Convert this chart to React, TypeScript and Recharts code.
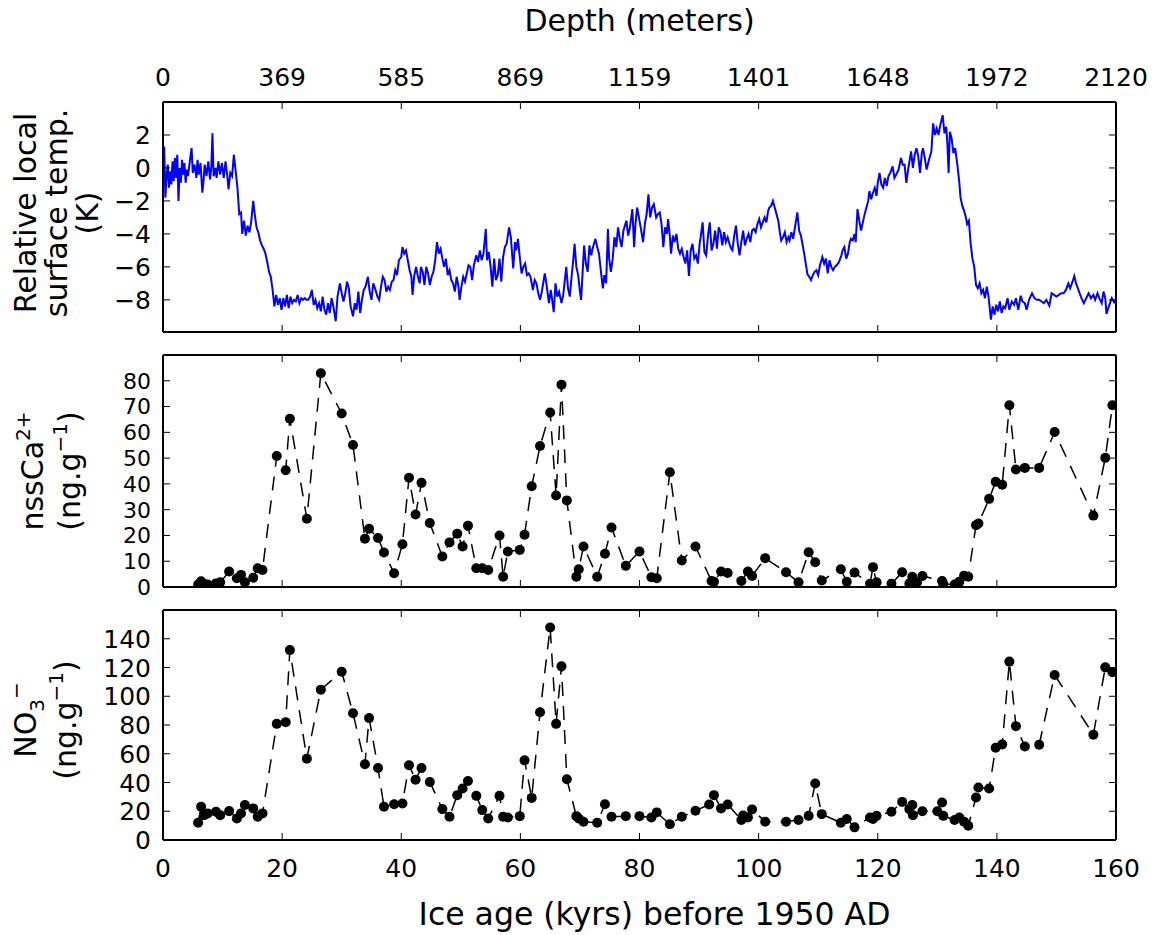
import React from 'react';
import { LineChart, Line, XAxis, YAxis } from 'recharts';

const FONT = '"DejaVu Sans", sans-serif';

const ageTicks = [0, 20, 40, 60, 80, 100, 120, 140, 160];
const depthLabels = ['0', '369', '585', '869', '1159', '1401', '1648', '1972', '2120'];
const tempTicks = [-8, -6, -4, -2, 0, 2];
const caTicks = [0, 10, 20, 30, 40, 50, 60, 70, 80];
const no3Ticks = [0, 20, 40, 60, 80, 100, 120, 140];

// [age kyr, relative temperature K]
const tempSeries: [number, number][] = [
  [0.0, -0.3], [0.2, 1.3], [0.4, -1.8], [0.6, -0.5], [0.8, 0.2], [1.0, -1.2], [1.2, -0.2], [1.4, -1.0],
  [1.6, 0.4], [1.8, -0.8], [2.0, 0.6], [2.2, -0.6], [2.4, 0.8], [2.6, -2.0], [2.8, 0.0], [3.0, -0.9],
  [3.2, 0.5], [3.4, -0.4], [3.6, 0.3], [3.8, -0.9], [4.0, -0.1], [4.2, -0.5], [4.5, 0.4], [4.8, 1.2],
  [5.0, -0.3], [5.3, 0.2], [5.6, -0.6], [5.8, 0.5], [6.0, -0.4], [6.3, 0.3], [6.6, -1.5], [6.8, -0.8],
  [7.0, 0.2], [7.3, -0.5], [7.6, 0.4], [7.9, -0.7], [8.1, 0.0], [8.3, 2.1], [8.5, -0.5], [8.8, 0.0],
  [9.0, -0.6], [9.3, 0.4], [9.6, -0.4], [9.9, 0.3], [10.2, -0.6], [10.5, 0.4], [10.8, -0.5], [11.0, -1.3],
  [11.3, -0.3], [11.6, -0.5], [11.9, 0.8], [12.2, -0.2], [12.5, -1.2], [12.8, -2.8], [13.1, -2.7], [13.3, -4.0],
  [13.6, -3.2], [13.9, -4.1], [14.2, -3.5], [14.5, -3.9], [14.8, -3.3], [15.15, -2.0], [15.4, -2.8], [15.7, -3.6],
  [16.0, -3.9], [16.3, -4.4], [16.6, -4.7], [16.9, -4.9], [17.2, -5.2], [17.5, -5.7], [17.8, -6.3], [18.1, -6.6],
  [18.4, -7.4], [18.7, -8.4], [19.0, -7.7], [19.3, -8.3], [19.6, -7.9], [19.9, -8.6], [20.2, -7.9], [20.5, -8.4],
  [20.8, -7.7], [21.1, -8.5], [21.4, -7.8], [21.7, -8.2], [22.0, -8.0], [22.3, -8.1], [22.6, -7.7], [22.9, -8.2],
  [23.2, -7.9], [23.5, -8.0], [23.8, -7.9], [24.1, -8.0], [24.4, -8.0], [24.7, -7.8], [25.0, -7.4], [25.3, -8.3],
  [25.6, -8.0], [25.9, -8.5], [26.2, -8.2], [26.5, -8.7], [26.8, -7.8], [27.1, -8.6], [27.4, -8.9], [27.7, -8.2],
  [28.0, -8.8], [28.3, -7.9], [28.6, -8.4], [29.0, -9.3], [29.3, -7.8], [29.7, -7.0], [30.0, -7.6], [30.3, -8.1],
  [30.6, -7.6], [30.9, -6.9], [31.2, -7.3], [31.5, -8.4], [31.9, -9.0], [32.2, -8.2], [32.5, -8.6], [32.8, -7.5],
  [33.1, -8.8], [33.4, -8.0], [33.7, -7.4], [34.0, -7.2], [34.4, -6.6], [34.7, -7.5], [35.0, -8.0], [35.3, -7.0],
  [35.6, -7.3], [36.0, -7.8], [36.3, -8.0], [36.6, -7.2], [36.9, -6.6], [37.2, -6.8], [37.5, -7.5], [37.8, -7.2],
  [38.1, -7.4], [38.4, -6.9], [38.7, -6.8], [39.0, -6.2], [39.3, -6.5], [39.6, -5.6], [40.0, -5.4], [40.2, -4.8],
  [40.5, -5.2], [40.8, -5.0], [41.1, -5.6], [41.4, -6.2], [41.7, -6.6], [41.9, -7.7], [42.2, -6.5], [42.5, -6.0],
  [42.8, -6.6], [43.1, -7.0], [43.3, -6.0], [43.6, -6.3], [43.9, -7.1], [44.2, -6.0], [44.5, -6.4], [44.8, -7.1],
  [45.1, -6.6], [45.4, -6.3], [45.7, -5.6], [46.0, -4.5], [46.3, -5.2], [46.6, -4.9], [46.9, -5.5], [47.2, -6.0],
  [47.5, -5.5], [47.8, -6.5], [48.1, -6.2], [48.4, -6.8], [48.7, -7.0], [49.0, -7.5], [49.3, -6.6], [49.6, -7.2],
  [49.8, -8.0], [50.1, -7.2], [50.4, -6.6], [50.7, -6.9], [51.0, -6.4], [51.3, -5.9], [51.6, -6.0], [51.9, -6.8],
  [52.2, -5.9], [52.6, -5.3], [52.9, -5.7], [53.2, -5.0], [53.5, -5.6], [53.8, -5.2], [54.2, -3.7], [54.4, -5.6],
  [54.7, -5.1], [55.0, -6.0], [55.3, -7.2], [55.6, -5.5], [55.9, -6.8], [56.2, -6.5], [56.5, -5.5], [56.8, -6.9],
  [57.1, -5.4], [57.4, -4.8], [57.7, -4.6], [58.1, -3.6], [58.4, -4.2], [58.8, -6.1], [59.1, -4.5], [59.3, -5.0],
  [59.6, -4.3], [59.9, -5.4], [60.2, -6.4], [60.5, -6.0], [60.8, -5.8], [61.1, -6.5], [61.4, -6.4], [61.7, -6.6],
  [62.1, -7.4], [62.4, -6.8], [62.7, -7.0], [63.0, -7.6], [63.3, -8.0], [63.6, -7.5], [64.1, -6.4], [64.4, -7.1],
  [64.8, -8.2], [65.1, -7.4], [65.3, -7.9], [65.6, -8.75], [65.9, -7.0], [66.2, -7.8], [66.5, -7.5], [66.9, -8.2],
  [67.2, -7.7], [67.7, -6.0], [68.0, -7.3], [68.3, -7.8], [68.6, -6.6], [68.9, -5.5], [69.1, -4.6], [69.4, -6.0],
  [69.7, -6.5], [70.0, -7.5], [70.2, -8.0], [70.5, -6.0], [70.7, -4.7], [71.0, -5.8], [71.3, -6.3], [71.6, -4.7],
  [71.9, -5.3], [72.2, -4.8], [72.6, -4.3], [72.9, -4.8], [73.2, -5.2], [73.5, -6.2], [73.85, -7.3], [74.1, -6.5],
  [74.4, -7.0], [74.7, -3.7], [74.9, -5.5], [75.2, -6.3], [75.5, -5.5], [75.8, -4.2], [76.1, -4.8], [76.4, -3.6],
  [76.7, -4.3], [77.0, -4.8], [77.3, -3.8], [77.8, -3.2], [78.1, -4.1], [78.4, -3.6], [78.8, -2.5], [79.1, -4.8],
  [79.3, -3.5], [79.6, -2.4], [79.9, -3.0], [80.2, -3.6], [80.6, -4.5], [80.9, -3.4], [81.2, -2.8], [81.5, -1.6],
  [81.8, -3.0], [82.1, -2.4], [82.4, -2.2], [82.8, -3.0], [83.1, -2.8], [83.4, -2.7], [83.7, -3.4], [84.0, -4.8],
  [84.3, -3.6], [84.6, -4.0], [84.8, -3.1], [85.1, -4.2], [85.3, -5.2], [85.6, -4.1], [85.9, -4.5], [86.2, -4.0],
  [86.5, -4.9], [86.8, -5.2], [87.1, -4.9], [87.4, -5.4], [87.7, -5.8], [88.0, -5.0], [88.3, -6.55], [88.6, -5.0],
  [88.9, -4.6], [89.2, -5.5], [89.5, -5.3], [89.8, -5.8], [90.1, -4.6], [90.3, -4.1], [90.6, -3.3], [90.9, -5.1],
  [91.2, -5.3], [91.5, -4.1], [91.8, -3.3], [92.1, -5.0], [92.4, -4.6], [92.7, -3.8], [93.0, -4.9], [93.3, -3.6],
  [93.6, -3.9], [93.9, -4.7], [94.2, -3.9], [94.5, -4.5], [94.8, -4.2], [95.1, -4.6], [95.4, -4.9], [95.6, -5.0],
  [95.9, -4.1], [96.2, -3.5], [96.5, -4.6], [96.8, -5.3], [97.1, -4.5], [97.4, -3.8], [97.7, -4.7], [98.0, -4.3],
  [98.3, -4.0], [98.6, -4.5], [98.9, -3.8], [99.2, -3.7], [99.5, -3.9], [99.8, -3.4], [100.1, -3.1], [100.4, -3.6],
  [100.7, -3.3], [101.0, -3.0], [101.3, -3.3], [101.6, -2.6], [101.8, -2.4], [102.1, -2.3], [102.4, -2.0], [102.7, -2.4],
  [103.0, -2.8], [103.3, -3.2], [103.6, -4.0], [103.8, -4.4], [104.1, -4.2], [104.4, -3.9], [104.7, -4.5], [105.0, -4.2],
  [105.2, -4.4], [105.5, -3.9], [105.8, -4.3], [106.1, -3.6], [106.5, -2.7], [106.8, -3.8], [107.1, -4.1], [107.4, -4.7],
  [107.7, -5.3], [108.0, -6.0], [108.2, -6.45], [108.5, -6.6], [108.8, -6.8], [109.1, -6.5], [109.4, -6.3], [109.7, -6.2],
  [110.0, -6.5], [110.3, -5.9], [110.7, -5.4], [111.0, -5.8], [111.3, -5.5], [111.6, -6.4], [111.9, -5.6], [112.2, -6.0],
  [112.5, -6.2], [112.8, -6.0], [113.1, -5.9], [113.5, -5.7], [113.9, -5.3], [114.1, -5.0], [114.4, -4.8], [114.7, -5.5],
  [115.0, -5.2], [115.3, -4.5], [115.5, -4.3], [115.8, -4.4], [116.1, -4.0], [116.3, -4.5], [116.6, -2.5], [116.9, -3.2],
  [117.2, -3.8], [117.5, -3.3], [117.8, -2.8], [118.1, -2.4], [118.4, -2.0], [118.6, -1.4], [118.9, -1.9], [119.2, -1.5],
  [119.5, -1.2], [119.8, -1.7], [120.0, -0.9], [120.3, -0.3], [120.6, -1.0], [120.9, -1.2], [121.2, -0.6], [121.5, -1.1],
  [121.8, -0.5], [122.1, -0.3], [122.5, 0.1], [122.8, -0.6], [123.1, -0.4], [123.5, -0.1], [123.9, 0.6], [124.2, 0.2],
  [124.5, 0.2], [124.8, -0.9], [125.1, -0.1], [125.6, 1.0], [125.9, 0.0], [126.2, 0.8], [126.5, 1.2], [126.8, 0.7],
  [127.1, -0.3], [127.4, 0.9], [127.6, 1.2], [127.9, 0.6], [128.2, -0.1], [128.6, 0.5], [129.0, 1.0], [129.3, 2.7],
  [129.6, 2.0], [129.9, 2.4], [130.2, 2.0], [130.5, 2.6], [130.9, 3.2], [131.2, 2.1], [131.5, 2.5], [131.7, 1.4],
  [131.9, -0.3], [132.1, 2.2], [132.4, 1.8], [132.7, 0.9], [133.0, 1.2], [133.4, 0.1], [133.7, -0.9], [133.9, -1.8],
  [134.2, -2.3], [134.5, -2.6], [134.8, -3.0], [135.0, -3.4], [135.3, -3.2], [135.6, -4.6], [135.9, -5.5], [136.2, -6.0],
  [136.5, -7.1], [136.8, -7.3], [137.1, -7.0], [137.4, -7.6], [137.7, -7.4], [138.0, -7.9], [138.3, -7.2], [138.6, -7.8],
  [139.0, -9.2], [139.3, -8.4], [139.6, -8.9], [139.9, -8.3], [140.2, -8.7], [140.5, -8.1], [140.8, -8.8], [141.1, -8.4],
  [141.4, -8.5], [141.8, -7.9], [142.1, -8.6], [142.5, -8.1], [142.9, -8.3], [143.2, -7.9], [143.6, -8.6], [144.0, -7.75],
  [144.3, -8.1], [144.7, -8.2], [145.0, -8.6], [145.4, -8.0], [145.9, -7.6], [146.3, -7.9], [146.7, -8.0], [147.1, -8.0],
  [147.5, -8.1], [147.9, -8.2], [148.3, -8.0], [148.8, -8.35], [149.2, -7.6], [149.6, -7.7], [150.0, -7.8], [150.4, -7.7],
  [150.8, -7.6], [151.2, -7.6], [151.6, -7.4], [152.0, -7.0], [152.3, -7.3], [152.7, -6.9], [153.0, -6.55], [153.3, -7.0],
  [153.6, -7.3], [153.9, -7.6], [154.2, -7.9], [154.6, -8.2], [155.0, -7.9], [155.4, -7.6], [155.8, -7.9], [156.2, -7.7],
  [156.5, -8.0], [156.9, -7.6], [157.2, -7.9], [157.6, -8.2], [157.9, -7.5], [158.2, -7.9], [158.4, -8.85], [158.7, -8.5],
  [159.0, -8.2], [159.3, -7.9], [159.7, -8.15], [160.0, -8.0],
];

// [age kyr, nssCa2+ ng/g]
const caSeries: [number, number][] = [
  [5.9, 1.0], [6.4, 2.2], [6.9, 1.2], [7.5, 1.0], [8.9, 1.4], [9.6, 1.8], [11.1, 6.0], [12.4, 3.4],
  [13.1, 4.7], [13.75, 1.8], [15.15, 3.6], [15.9, 7.3], [16.7, 6.6], [19.1, 50.8], [20.6, 45.3], [21.3, 65.3],
  [24.15, 26.5], [26.5, 82.9], [30.0, 67.3], [31.9, 55.1], [33.9, 18.7], [34.6, 22.6], [36.1, 19.0], [37.1, 13.4],
  [38.8, 5.3], [40.2, 16.6], [41.3, 42.4], [42.4, 28.1], [43.4, 40.4], [44.8, 24.8], [46.9, 11.8], [48.1, 17.3],
  [49.4, 20.7], [50.3, 15.7], [51.2, 23.8], [52.6, 7.3], [53.6, 7.3], [54.6, 6.6], [56.5, 20.0], [57.1, 4.0],
  [57.9, 13.8], [59.9, 14.4], [60.7, 20.3], [61.9, 39.1], [63.3, 54.7], [65.0, 67.7], [66.0, 35.5], [66.9, 78.5],
  [67.8, 33.6], [69.4, 4.0], [69.8, 6.9], [70.6, 15.7], [72.9, 4.0], [74.2, 12.9], [75.3, 23.1], [77.7, 8.2],
  [80.0, 13.8], [82.0, 3.8], [82.9, 3.4], [85.1, 44.5], [87.1, 10.3], [89.4, 15.7], [92.1, 2.3], [92.5, 2.0],
  [93.7, 6.0], [94.8, 5.4], [97.1, 2.3], [98.2, 6.0], [98.9, 4.3], [101.1, 11.2], [104.6, 5.7], [106.7, 1.8],
  [108.4, 13.5], [109.5, 9.6], [110.6, 2.5], [113.8, 6.9], [114.8, 2.0], [116.1, 5.6], [118.7, 1.3], [119.2, 7.7],
  [119.8, 1.8], [122.3, 1.3], [124.1, 5.7], [125.3, 1.3], [125.8, 4.0], [126.6, 1.8], [127.5, 4.3], [130.8, 2.3],
  [131.0, 1.2], [132.9, 1.0], [133.7, 2.0], [134.5, 4.4], [135.2, 4.0], [136.5, 24.0], [136.9, 24.6], [138.7, 34.2],
  [139.8, 40.8], [140.9, 39.7], [142.1, 70.5], [143.2, 45.6], [144.7, 46.2], [147.1, 46.2], [149.7, 60.1], [156.2, 27.7],
  [158.2, 50.1], [159.4, 70.5],
];

// [age kyr, NO3- ng/g]
const no3Series: [number, number][] = [
  [5.9, 12.0], [6.4, 23.1], [6.9, 17.3], [7.5, 18.5], [8.9, 19.6], [9.6, 17.3], [11.1, 20.1], [12.4, 15.0],
  [13.1, 18.5], [13.75, 24.3], [15.15, 22.0], [15.9, 16.2], [16.7, 18.5], [19.1, 80.8], [20.6, 82.0], [21.3, 132.1],
  [24.15, 56.6], [26.5, 104.6], [30.0, 117.1], [31.9, 88.2], [33.9, 52.7], [34.6, 84.8], [36.1, 50.1], [37.1, 23.1],
  [38.8, 24.9], [40.2, 25.4], [41.3, 52.0], [42.4, 42.0], [43.4, 50.1], [44.8, 40.4], [46.9, 21.5], [48.1, 16.2],
  [49.4, 31.2], [50.3, 35.8], [51.2, 41.1], [52.6, 30.7], [53.6, 20.8], [54.6, 15.0], [56.5, 30.7], [57.1, 16.2],
  [57.9, 15.7], [59.9, 16.6], [60.7, 55.4], [61.9, 29.3], [63.3, 88.9], [65.0, 147.8], [66.0, 80.8], [66.9, 120.8],
  [67.8, 42.3], [69.4, 16.6], [69.8, 15.0], [70.6, 12.7], [72.9, 12.0], [74.2, 24.9], [75.3, 16.2], [77.7, 16.6],
  [80.0, 16.6], [82.0, 15.7], [82.9, 19.2], [85.1, 10.9], [87.1, 16.2], [89.4, 20.3], [91.7, 24.7], [92.5, 31.2],
  [93.7, 22.0], [94.8, 24.7], [97.1, 13.9], [97.4, 17.0], [98.2, 15.7], [98.9, 21.3], [101.1, 12.7], [104.6, 12.7],
  [106.7, 13.9], [108.4, 16.8], [109.5, 39.3], [110.6, 18.0], [113.8, 12.0], [114.8, 14.6], [116.1, 8.8], [118.7, 15.7],
  [119.2, 14.6], [119.8, 16.8], [122.3, 19.6], [124.1, 26.5], [125.3, 21.5], [125.8, 24.3], [125.9, 17.3], [127.5, 20.0],
  [130.0, 20.0], [130.8, 26.1], [131.0, 16.8], [132.9, 13.9], [133.7, 15.7], [134.5, 12.7], [135.2, 9.9], [136.5, 29.6],
  [136.9, 36.5], [138.7, 35.8], [139.8, 64.2], [140.9, 66.5], [142.1, 124.1], [143.2, 79.2], [144.7, 65.1], [147.1, 66.3],
  [149.7, 114.8], [156.2, 73.3], [158.2, 120.1], [159.4, 116.7],
];

const tempData = tempSeries.map(([age, v]) => ({ age, v }));
const caData = caSeries.map(([age, v]) => ({ age, v }));
const no3Data = no3Series.map(([age, v]) => ({ age, v }));

const W = 1155;
const H = 935;
const LEFT = 163;
const RIGHT = 1116;
const TICK = 7;
const tickFont = { fontSize: 25, fontFamily: FONT, fill: '#000' };
const labelFont = { fontSize: 30, fontFamily: FONT, fill: '#000' };
const frame = { stroke: '#000', strokeWidth: 2 };

const fmt = (v: number) => (v < 0 ? '\u2212' + Math.abs(v) : String(v));

const bottomTick = (labels?: string[]) => (p: any) => (
  <g>
    <line x1={p.x} x2={p.x} y1={p.y} y2={p.y - TICK} stroke="#000" strokeWidth={1} />
    {labels && (
      <text x={p.x} y={p.y + 37} textAnchor="middle" {...tickFont}>
        {labels[ageTicks.indexOf(p.payload.value)]}
      </text>
    )}
  </g>
);

const topTick = (labels?: string[]) => (p: any) => (
  <g>
    <line x1={p.x} x2={p.x} y1={p.y} y2={p.y + TICK} stroke="#000" strokeWidth={1} />
    {labels && (
      <text x={p.x} y={p.y - 16} textAnchor="middle" {...tickFont}>
        {labels[ageTicks.indexOf(p.payload.value)]}
      </text>
    )}
  </g>
);

const leftTick = (size: number) => (p: any) => (
  <g>
    <line x1={p.x} x2={p.x + TICK} y1={p.y} y2={p.y} stroke="#000" strokeWidth={1} />
    <text x={p.x - 12} y={p.y + size * 0.36} textAnchor="end" {...tickFont} fontSize={size}>
      {fmt(p.payload.value)}
    </text>
  </g>
);

const rightTick = (p: any) => (
  <line x1={p.x} x2={p.x - TICK} y1={p.y} y2={p.y} stroke="#000" strokeWidth={1} />
);

// rotated multi-line y label; each line: [baseline x, content]
const yLabel = (lines: [number, React.ReactNode][], cyShift = 0) => (props: any) => {
  const vb = props.viewBox;
  const cy = vb.y + vb.height / 2 + cyShift;
  return (
    <g>
      {lines.map(([bx, content], i) => (
        <text key={i} x={bx} y={cy} transform={`rotate(-90 ${bx} ${cy})`} textAnchor="middle" {...labelFont}>
          {content}
        </text>
      ))}
    </g>
  );
};

const xTitle = (text: string, baseline: number, size: number, dx = 0) => (props: any) => {
  const vb = props.viewBox;
  return (
    <text x={vb.x + vb.width / 2 + dx} y={baseline} textAnchor="middle" {...labelFont} fontSize={size}>
      {text}
    </text>
  );
};

const caLabel = yLabel([
  [43, <>nssCa<tspan dy={-13} fontSize={20}>2+</tspan></>],
  [80, <>(ng.g<tspan dy={-13} fontSize={20}>{'\u22121'}</tspan><tspan dy={13}>)</tspan></>],
]);

const no3Label = yLabel([
  [36, <>NO<tspan dy={8} fontSize={20}>3</tspan><tspan dy={-21} fontSize={20}>{'\u2212'}</tspan></>],
  [76, <>(ng.g<tspan dy={-13} fontSize={20}>{'\u22121'}</tspan><tspan dy={13}>)</tspan></>],
], -5);

const tempLabel = yLabel([
  [36, 'Relative local'],
  [67, 'surface temp.'],
  [98, '(K)'],
], -4);

const ageAxes = (top: boolean, bottom: boolean, topTitle?: boolean, bottomTitle?: boolean) => [
  <XAxis
    key="xb"
    xAxisId="b"
    type="number"
    dataKey="age"
    domain={[0, 160]}
    ticks={ageTicks}
    interval={0}
    allowDataOverflow
    height={1}
    tickSize={0}
    tickMargin={0}
    axisLine={frame}
    tickLine={false}
    tick={bottomTick(bottom ? ageTicks.map(String) : undefined)}
    label={bottomTitle ? xTitle('Ice age (kyrs) before 1950 AD', 925, 31.5, 15) : undefined}
  />,
  <XAxis
    key="xt"
    xAxisId="t"
    orientation="top"
    type="number"
    dataKey="age"
    domain={[0, 160]}
    ticks={ageTicks}
    interval={0}
    allowDataOverflow
    height={1}
    tickSize={0}
    tickMargin={0}
    axisLine={frame}
    tickLine={false}
    tick={topTick(top ? depthLabels : undefined)}
    label={topTitle ? xTitle('Depth (meters)', 31, 30) : undefined}
  />,
];

const valueAxes = (domain: [number, number], ticks: number[], label: any, size = 25) => [
  <YAxis
    key="yl"
    yAxisId="l"
    type="number"
    domain={domain}
    ticks={ticks}
    interval={0}
    allowDataOverflow
    width={1}
    tickSize={0}
    tickMargin={0}
    axisLine={frame}
    tickLine={false}
    tick={leftTick(size)}
    label={label}
  />,
  <YAxis
    key="yr"
    yAxisId="r"
    orientation="right"
    type="number"
    domain={domain}
    ticks={ticks}
    interval={0}
    allowDataOverflow
    width={1}
    tickSize={0}
    tickMargin={0}
    axisLine={frame}
    tickLine={false}
    tick={rightTick}
  />,
];

const layer: React.CSSProperties = { position: 'absolute', left: 0, top: 0 };
// axes take 1px each, so margins are one pixel short of the plot box
const marginFor = (top: number, bottom: number) => ({
  top: top - 1,
  bottom: H - bottom - 1,
  left: LEFT - 1,
  right: W - RIGHT - 1,
});

export default function App() {
  return (
    <div style={{ position: 'absolute', left: 0, top: 0, width: W, height: H, background: '#fff' }}>
      <div style={layer}>
        <LineChart width={W} height={H} margin={marginFor(102, 332)}>
          {ageAxes(true, false, true, false)}
          {valueAxes([-9.95, 4], tempTicks, tempLabel)}
          <Line
            data={tempData}
            xAxisId="b"
            yAxisId="l"
            dataKey="v"
            type="linear"
            stroke="#0000ff"
            strokeWidth={2}
            dot={false}
            isAnimationActive={false}
          />
        </LineChart>
      </div>
      <div style={layer}>
        <LineChart width={W} height={H} margin={marginFor(355, 587)}>
          {ageAxes(false, false)}
          {valueAxes([0, 90], caTicks, caLabel, 22)}
          <Line
            data={caData}
            xAxisId="b"
            yAxisId="l"
            dataKey="v"
            type="linear"
            stroke="#000"
            strokeWidth={1.5}
            strokeDasharray="14 10"
            dot={{ r: 5, fill: '#000', stroke: '#000', strokeWidth: 0 }}
            isAnimationActive={false}
          />
        </LineChart>
      </div>
      <div style={layer}>
        <LineChart width={W} height={H} margin={marginFor(610, 840)}>
          {ageAxes(false, true, false, true)}
          {valueAxes([0, 160], no3Ticks, no3Label)}
          <Line
            data={no3Data}
            xAxisId="b"
            yAxisId="l"
            dataKey="v"
            type="linear"
            stroke="#000"
            strokeWidth={1.5}
            strokeDasharray="14 10"
            dot={{ r: 5, fill: '#000', stroke: '#000', strokeWidth: 0 }}
            isAnimationActive={false}
          />
        </LineChart>
      </div>
    </div>
  );
}
